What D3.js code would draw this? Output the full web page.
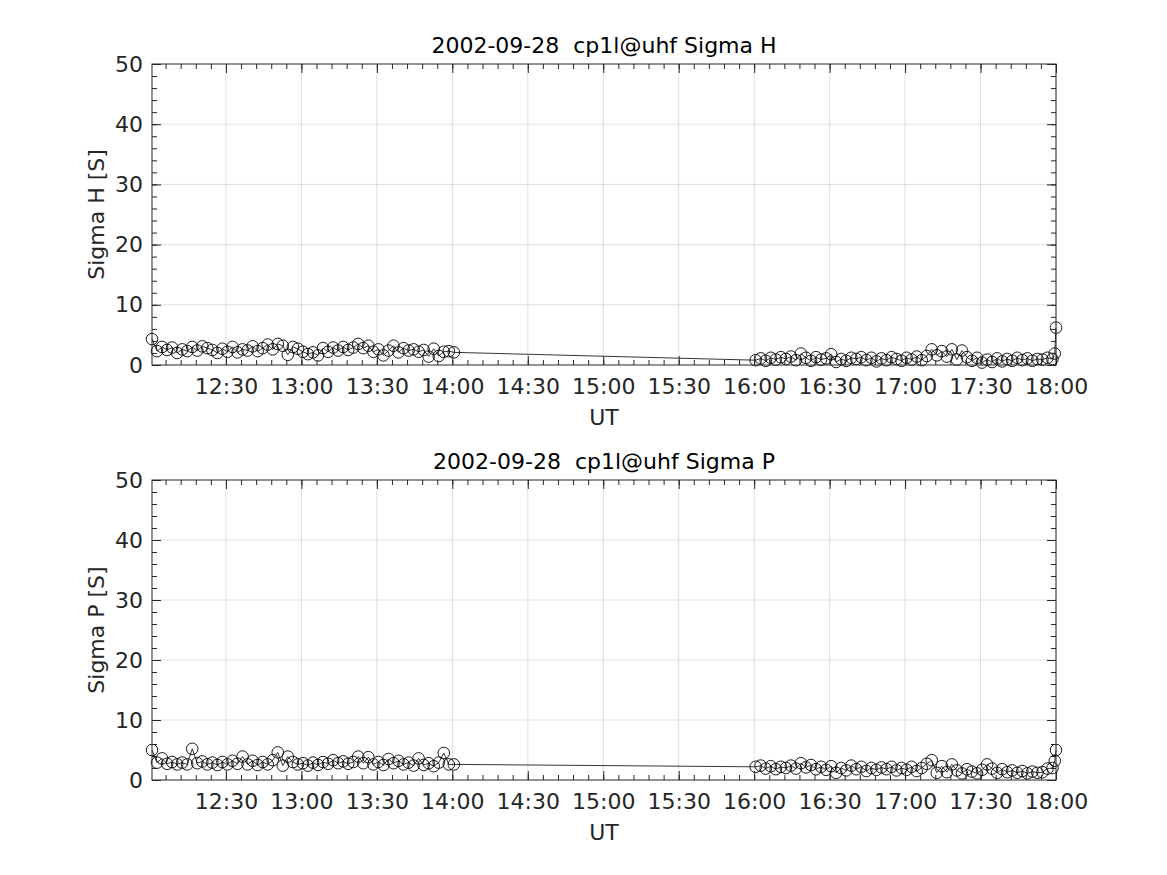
<!DOCTYPE html>
<html>
<head>
<meta charset="utf-8">
<script src="https://cdn.jsdelivr.net/npm/d3@7"></script>
<style>
  html, body { margin: 0; padding: 0; background: #fff; }
  svg { display: block; font-family: "DejaVu Sans", sans-serif; }
  .title { white-space: pre; }
</style>
</head>
<body>
<svg id="chart" width="1167" height="875"></svg>
<script>
// ---------- DATA ----------
const titles = ["2002-09-28  cp1l@uhf Sigma H", "2002-09-28  cp1l@uhf Sigma P"];
const yLabels = ["Sigma H [S]", "Sigma P [S]"];
const xLabel = "UT";
const xDomain = ["12:00:36", "18:00:00"];
const yTicks = [0, 10, 20, 30, 40, 50];

const times1 = [
  "12:00:36","12:02:36","12:04:36","12:06:36","12:08:36","12:10:36","12:12:36","12:14:36","12:16:36","12:18:36",
  "12:20:36","12:22:36","12:24:36","12:26:36","12:28:36","12:30:36","12:32:36","12:34:36","12:36:36","12:38:36",
  "12:40:36","12:42:36","12:44:36","12:46:36","12:48:36","12:50:36","12:52:36","12:54:36","12:56:36","12:58:36",
  "13:00:36","13:02:36","13:04:36","13:06:36","13:08:36","13:10:36","13:12:36","13:14:36","13:16:36","13:18:36",
  "13:20:36","13:22:36","13:24:36","13:26:36","13:28:36","13:30:36","13:32:36","13:34:36","13:36:36","13:38:36",
  "13:40:36","13:42:36","13:44:36","13:46:36","13:48:36","13:50:36","13:52:36","13:54:36","13:56:36","13:58:36",
  "14:00:36"
];
const times2 = [
  "16:00:36","16:02:36","16:04:36","16:06:36","16:08:36","16:10:36","16:12:36","16:14:36","16:16:36","16:18:36",
  "16:20:36","16:22:36","16:24:36","16:26:36","16:28:36","16:30:36","16:32:36","16:34:36","16:36:36","16:38:36",
  "16:40:36","16:42:36","16:44:36","16:46:36","16:48:36","16:50:36","16:52:36","16:54:36","16:56:36","16:58:36",
  "17:00:36","17:02:36","17:04:36","17:06:36","17:08:36","17:10:36","17:12:36","17:14:36","17:16:36","17:18:36",
  "17:20:36","17:22:36","17:24:36","17:26:36","17:28:36","17:30:36","17:32:36","17:34:36","17:36:36","17:38:36",
  "17:40:36","17:42:36","17:44:36","17:46:36","17:48:36","17:50:36","17:52:36","17:54:36","17:56:36","17:58:36",
  "17:59:30","18:00:00"
];

const sigmaH1 = [
  4.3,2.3,3.0,2.5,2.9,2.0,2.6,2.3,3.0,2.4,
  3.1,2.8,2.5,2.0,2.7,2.2,3.0,2.1,2.6,2.4,
  3.1,2.3,2.8,3.4,2.6,3.5,3.2,1.7,3.0,2.7,
  2.2,1.8,2.1,1.6,2.8,2.2,2.9,2.4,3.0,2.5,
  2.9,3.5,2.8,3.2,2.2,2.6,1.6,2.4,3.2,2.1,
  2.8,2.4,2.6,2.2,2.5,1.4,2.7,1.5,2.2,2.3,
  2.1
];
const sigmaH2 = [
  0.8,1.1,0.7,1.2,0.9,1.3,1.0,1.4,0.8,1.9,
  1.2,0.7,1.3,0.9,1.1,1.8,0.5,1.0,0.7,1.2,
  1.0,1.3,0.8,1.2,0.6,1.1,0.8,1.3,1.0,0.7,
  1.2,0.9,1.4,0.8,1.5,2.6,1.6,2.3,1.4,2.6,
  0.9,2.4,1.3,0.7,1.2,0.4,0.9,0.5,1.1,0.6,
  1.0,0.7,1.2,0.8,1.1,0.7,1.0,0.9,1.2,1.0,
  1.9,6.2
];
const sigmaP1 = [
  5.0,2.9,3.6,2.7,3.0,2.6,2.9,2.6,5.2,2.8,
  3.1,2.6,2.9,2.5,3.0,2.6,3.2,2.7,3.9,2.6,
  3.2,2.5,3.0,2.6,3.3,4.6,2.4,3.9,3.0,2.6,
  2.8,2.4,2.9,2.5,3.0,2.7,3.3,2.8,3.1,2.7,
  3.0,3.9,2.8,3.8,2.6,3.0,2.5,3.5,2.8,3.2,
  2.6,2.9,2.4,3.6,2.5,2.8,2.3,2.9,4.5,2.6,
  2.6
];
const sigmaP2 = [
  2.2,2.4,1.9,2.3,1.8,2.2,2.0,2.4,1.9,2.8,
  2.1,2.5,1.8,2.2,1.7,2.3,1.2,2.0,1.6,2.4,
  1.8,2.2,1.5,2.0,1.7,2.1,1.8,2.2,1.6,2.0,
  1.7,2.2,1.5,2.0,2.7,3.3,1.2,2.3,1.3,2.6,
  1.6,1.1,1.8,1.4,1.1,1.7,2.6,1.9,1.2,1.8,
  1.3,1.6,1.2,1.5,1.1,1.4,1.2,1.3,1.9,2.0,
  3.2,5.0
];

// ---------- CHART ----------
const parseT = d3.utcParse("%H:%M:%S");
const svg = d3.select("#chart");
const TXT = "#262626";
const FS = 22;

const panels = [
  { top: 64, bottom: 365, title: titles[0], ylab: yLabels[0], seg1: sigmaH1, seg2: sigmaH2 },
  { top: 480, bottom: 780, title: titles[1], ylab: yLabels[1], seg1: sigmaP1, seg2: sigmaP2 }
];
const left = 152, right = 1056;

const x = d3.scaleUtc().domain(xDomain.map(parseT)).range([left, right]);
const majorX = d3.utcMinute.every(30).range(x.domain()[0], new Date(+x.domain()[1] + 1));
const minorX = d3.utcMinute.every(6).range(x.domain()[0], new Date(+x.domain()[1] + 1));
const fmt = d3.utcFormat("%H:%M");

panels.forEach(p => {
  const y = d3.scaleLinear().domain([0, 50]).range([p.bottom, p.top]);
  const g = svg.append("g");
  const minorY = d3.range(0, 50.001, 2);

  // grid
  g.append("g").selectAll("line").data(majorX).join("line")
    .attr("x1", d => x(d)).attr("x2", d => x(d))
    .attr("y1", p.top).attr("y2", p.bottom)
    .attr("stroke", TXT).attr("stroke-opacity", 0.15).attr("stroke-width", 1);
  g.append("g").selectAll("line").data(yTicks.slice(1, -1)).join("line")
    .attr("x1", left).attr("x2", right)
    .attr("y1", d => y(d)).attr("y2", d => y(d))
    .attr("stroke", TXT).attr("stroke-opacity", 0.15).attr("stroke-width", 1);

  // data
  const pts = times1.map((t, i) => ({ t: parseT(t), v: p.seg1[i] }))
    .concat(times2.map((t, i) => ({ t: parseT(t), v: p.seg2[i] })));
  const line = d3.line().x(d => x(d.t)).y(d => y(d.v));
  g.append("path").datum(pts).attr("d", line)
    .attr("fill", "none").attr("stroke", "#000").attr("stroke-width", 0.8);
  g.append("g").selectAll("circle").data(pts).join("circle")
    .attr("cx", d => x(d.t)).attr("cy", d => y(d.v)).attr("r", 5.8)
    .attr("fill", "none").attr("stroke", "#000").attr("stroke-width", 0.9);

  // axes (inward ticks on all four sides)
  const axB = d3.axisBottom(x).tickValues(majorX).tickFormat(fmt).tickSize(-9).tickPadding(13);
  const axBm = d3.axisBottom(x).tickValues(minorX).tickFormat("").tickSize(-5);
  const axT = d3.axisTop(x).tickValues(majorX).tickFormat("").tickSize(-9);
  const axTm = d3.axisTop(x).tickValues(minorX).tickFormat("").tickSize(-5);
  const axL = d3.axisLeft(y).tickValues(yTicks).tickFormat(d3.format("d")).tickSize(-9).tickPadding(9);
  const axLm = d3.axisLeft(y).tickValues(minorY).tickFormat("").tickSize(-5);
  const axR = d3.axisRight(y).tickValues(yTicks).tickFormat("").tickSize(-9);
  const axRm = d3.axisRight(y).tickValues(minorY).tickFormat("").tickSize(-5);

  const style = sel => {
    sel.select(".domain").remove();
    sel.selectAll("line").attr("stroke", TXT).attr("stroke-width", 1);
    sel.selectAll("text").attr("fill", TXT).attr("font-size", FS).attr("font-family", "DejaVu Sans");
  };
  g.append("g").attr("transform", `translate(0,${p.bottom})`).call(axBm).call(style);
  g.append("g").attr("transform", `translate(0,${p.bottom})`).call(axB).call(style);
  g.append("g").attr("transform", `translate(0,${p.top})`).call(axTm).call(style);
  g.append("g").attr("transform", `translate(0,${p.top})`).call(axT).call(style);
  g.append("g").attr("transform", `translate(${left},0)`).call(axLm).call(style);
  g.append("g").attr("transform", `translate(${left},0)`).call(axL).call(style);
  g.append("g").attr("transform", `translate(${right},0)`).call(axRm).call(style);
  g.append("g").attr("transform", `translate(${right},0)`).call(axR).call(style);

  // box
  g.append("rect").attr("x", left).attr("y", p.top)
    .attr("width", right - left).attr("height", p.bottom - p.top)
    .attr("fill", "none").attr("stroke", TXT).attr("stroke-width", 1);

  // labels
  g.append("text").attr("class", "title").attr("xml:space", "preserve")
    .attr("x", (left + right) / 2).attr("y", p.top - 11)
    .attr("text-anchor", "middle").attr("fill", "#000").attr("font-size", FS).text(p.title);
  g.append("text").attr("x", (left + right) / 2).attr("y", p.bottom + 60)
    .attr("text-anchor", "middle").attr("fill", TXT).attr("font-size", FS).text(xLabel);
  g.append("text")
    .attr("transform", `translate(104,${(p.top + p.bottom) / 2}) rotate(-90)`)
    .attr("text-anchor", "middle").attr("fill", TXT).attr("font-size", FS).text(p.ylab);
});
</script>
</body>
</html>
